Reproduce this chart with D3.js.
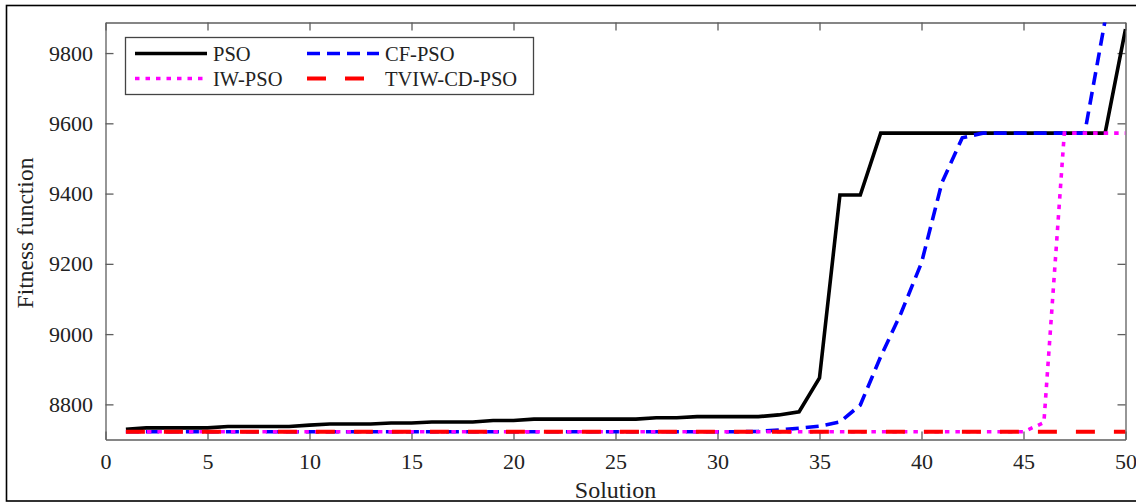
<!DOCTYPE html>
<html>
<head>
<meta charset="utf-8">
<script src="https://cdn.jsdelivr.net/npm/d3@7"></script>
<style>
  html, body { margin: 0; padding: 0; background: #fff; }
  svg { display: block; font-family: "Liberation Serif", "Times New Roman", serif; }
</style>
</head>
<body>
<svg id="chart" width="1136" height="504"></svg>
<script>
// Solution index (iteration number)
const solution = [1,2,3,4,5,6,7,8,9,10,11,12,13,14,15,16,17,18,19,20,21,22,23,24,25,
                  26,27,28,29,30,31,32,33,34,35,36,37,38,39,40,41,42,43,44,45,46,47,48,49,50];

// Fitness function per solution for each algorithm
const psoValues = [8729,8733,8733,8733,8733,8737,8737,8737,8737,8741,
                   8744,8744,8744,8747,8747,8750,8750,8750,8754,8754,
                   8758,8758,8758,8758,8758,8758,8762,8762,8765,8765,
                   8765,8765,8770,8779,8875,9396,9396,9572,9572,9572,
                   9572,9572,9572,9572,9572,9572,9572,9572,9572,9868];
const cfPsoValues = [8722,8722,8722,8722,8722,8722,8722,8722,8722,8722,
                     8722,8722,8722,8722,8722,8722,8722,8722,8722,8722,
                     8722,8722,8722,8722,8722,8722,8722,8722,8722,8722,
                     8722,8723,8727,8732,8738,8750,8798,8936,9060,9203,
                     9431,9559,9572,9572,9572,9572,9572,9572,9893,10100];
const iwPsoValues = [8722,8722,8722,8722,8722,8722,8722,8722,8722,8722,
                     8722,8722,8722,8722,8722,8722,8722,8722,8722,8722,
                     8722,8722,8722,8722,8722,8722,8722,8722,8722,8722,
                     8722,8722,8722,8722,8722,8722,8722,8722,8722,8722,
                     8722,8722,8722,8722,8722,8748,9572,9572,9572,9572];
const tviwCdPsoValues = [8722,8722,8722,8722,8722,8722,8722,8722,8722,8722,
                         8722,8722,8722,8722,8722,8722,8722,8722,8722,8722,
                         8722,8722,8722,8722,8722,8722,8722,8722,8722,8722,
                         8722,8722,8722,8722,8722,8722,8722,8722,8722,8722,
                         8722,8722,8722,8722,8722,8722,8722,8722,8722,8722];

const seriesNames = ["PSO", "CF-PSO", "IW-PSO", "TVIW-CD-PSO"];
const xTicks = [0, 5, 10, 15, 20, 25, 30, 35, 40, 45, 50];
const yTicks = [8800, 9000, 9200, 9400, 9600, 9800];

const series = [
  { name: seriesNames[0], values: psoValues,       color: "#000000", width: 3.6, dash: null },
  { name: seriesNames[1], values: cfPsoValues,     color: "#0000ff", width: 3.6, dash: "13,7" },
  { name: seriesNames[2], values: iwPsoValues,     color: "#ff00ff", width: 3.6, dash: "4.5,6" },
  { name: seriesNames[3], values: tviwCdPsoValues, color: "#ff0000", width: 4,   dash: "19,19" }
];

const svg = d3.select("#chart");
const plot = { left: 105.5, right: 1125.5, top: 22.5, bottom: 439.5 };

const x = d3.scaleLinear().domain([0, 50]).range([plot.left, plot.right]);
const y = d3.scaleLinear().domain([8700, 9887]).range([plot.bottom, plot.top]);

// outer figure frame
svg.append("rect")
  .attr("x", 6.5).attr("y", 5.5)
  .attr("width", 1140).attr("height", 495.5)
  .attr("fill", "none").attr("stroke", "#000").attr("stroke-width", 1.6);

// clip region for the curves
svg.append("defs").append("clipPath").attr("id", "plotClip")
  .append("rect")
  .attr("x", plot.left).attr("y", plot.top)
  .attr("width", plot.right - plot.left).attr("height", plot.bottom - plot.top);

const axisColor = "#5e5e5e";
const textColor = "#222";

function styleAxis(g, showLabels) {
  g.select(".domain").attr("stroke", axisColor).attr("stroke-width", 1.3);
  g.selectAll(".tick line").attr("stroke", axisColor).attr("stroke-width", 1.3);
  g.selectAll(".tick text")
    .attr("fill", textColor)
    .attr("font-size", 22)
    .attr("font-family", "Liberation Serif, Times New Roman, serif")
    .style("display", showLabels ? null : "none");
}

// bottom axis with labels, ticks pointing inward
svg.append("g")
  .attr("transform", `translate(0,${plot.bottom})`)
  .call(d3.axisBottom(x).tickValues(xTicks).tickSizeInner(-8).tickSizeOuter(0).tickPadding(13.5).tickFormat(d3.format("d")))
  .call(g => styleAxis(g, true));

// top axis, ticks only
svg.append("g")
  .attr("transform", `translate(0,${plot.top})`)
  .call(d3.axisTop(x).tickValues(xTicks).tickSizeInner(-8).tickSizeOuter(0))
  .call(g => styleAxis(g, false));

// left axis with labels
svg.append("g")
  .attr("transform", `translate(${plot.left},0)`)
  .call(d3.axisLeft(y).tickValues(yTicks).tickSizeInner(-8).tickSizeOuter(0).tickPadding(12.5).tickFormat(d3.format("d")))
  .call(g => styleAxis(g, true));

// right axis, ticks only
svg.append("g")
  .attr("transform", `translate(${plot.right},0)`)
  .call(d3.axisRight(y).tickValues(yTicks).tickSizeInner(-8).tickSizeOuter(0))
  .call(g => styleAxis(g, false));

// curves
const line = d3.line()
  .x((d, i) => x(solution[i]))
  .y(d => y(d));

const curves = svg.append("g").attr("clip-path", "url(#plotClip)");
series.forEach(s => {
  curves.append("path")
    .datum(s.values)
    .attr("d", line)
    .attr("fill", "none")
    .attr("stroke", s.color)
    .attr("stroke-width", s.width)
    .attr("stroke-linejoin", "miter")
    .attr("stroke-dasharray", s.dash);
});

// axis titles
svg.append("text")
  .attr("x", (plot.left + plot.right) / 2)
  .attr("y", 497.5)
  .attr("text-anchor", "middle")
  .attr("font-size", 24)
  .attr("fill", textColor)
  .text("Solution");

svg.append("text")
  .attr("transform", `translate(33,${(plot.top + plot.bottom) / 2 + 2}) rotate(-90)`)
  .attr("text-anchor", "middle")
  .attr("font-size", 23.5)
  .attr("fill", textColor)
  .text("Fitness function");

// legend
const legend = svg.append("g");
legend.append("rect")
  .attr("x", 125.5).attr("y", 37.5)
  .attr("width", 408).attr("height", 57)
  .attr("fill", "#fff").attr("stroke", "#444").attr("stroke-width", 1.3);

const legendSlots = [
  { col: 0, row: 0 }, { col: 1, row: 0 }, { col: 0, row: 1 }, { col: 1, row: 1 }
];
const colX = [135, 307];
const rowY = [53.5, 78.5];

series.forEach((s, i) => {
  const slot = legendSlots[i];
  const lx = colX[slot.col], ly = rowY[slot.row];
  legend.append("line")
    .attr("x1", lx).attr("x2", lx + 72)
    .attr("y1", ly).attr("y2", ly)
    .attr("stroke", s.color)
    .attr("stroke-width", s.width)
    .attr("stroke-dasharray", s.dash);
  legend.append("text")
    .attr("x", lx + 78)
    .attr("y", ly + 7.5)
    .attr("font-size", 20.5)
    .attr("fill", textColor)
    .text(s.name);
});
</script>
</body>
</html>
